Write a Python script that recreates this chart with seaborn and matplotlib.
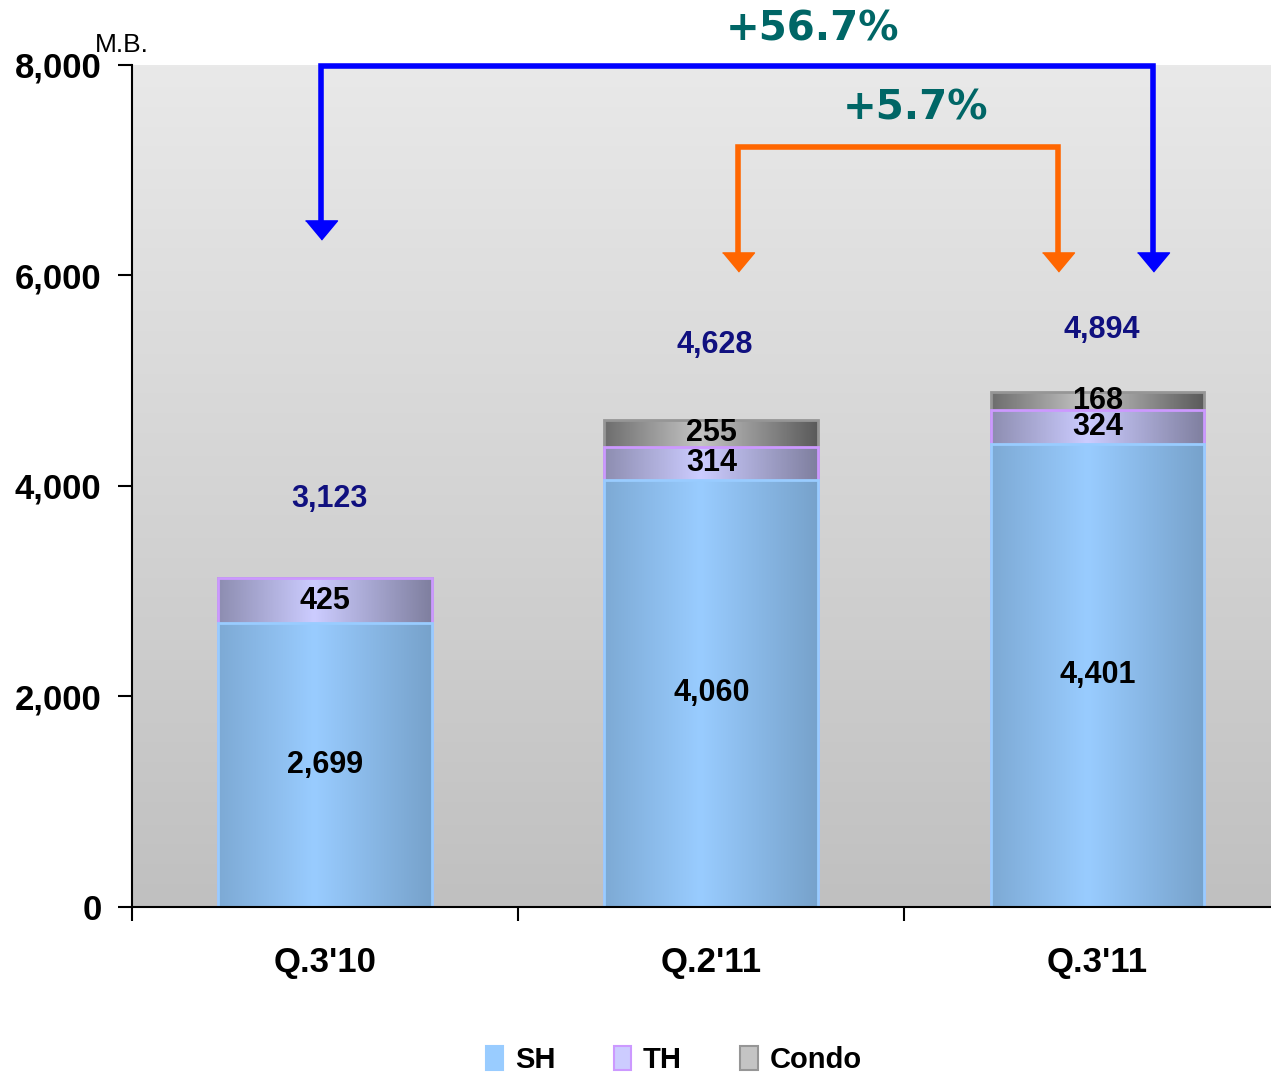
import numpy as np
import pandas as pd
import matplotlib
matplotlib.use("Agg")
import matplotlib.pyplot as plt
import seaborn as sns
from matplotlib.colors import LinearSegmentedColormap
from matplotlib.patches import Rectangle, Patch

# Data (M.B.)
quarters = ["Q.3'10", "Q.2'11", "Q.3'11"]
sh = [2699, 4060, 4401]
th = [425, 314, 324]
condo = [0, 255, 168]
totals = [3123, 4628, 4894]
total_label_gap = [753, 712, 588]

# growth brackets: label, x left, x right, top level, tip level, colour
growth_labels = ["+56.7%", "+5.7%"]
growth_x_left = [-0.01, 1.069]
growth_x_right = [2.145, 1.897]
growth_top = [7990, 7221]
growth_tip_left = [6432, 6128]
growth_tip_right = [6128, 6128]
growth_colors = ["#0000ff", "#ff6600"]
growth_text_xy = [(1.263, 8340), (1.529, 7590)]

# styles: (edge shade, centre shade, outline)
styles = {
    "SH": ("#77a2cb", "#99ccff", "#99ccff"),
    "TH": ("#7f7f9f", "#ccccff", "#cc99ff"),
    "Condo": ("#5a5a5a", "#c4c4c4", "#969696"),
}

df = pd.DataFrame({"quarter": quarters, "SH": sh, "TH": th, "Condo": condo})
df["cum_TH"] = df["SH"] + df["TH"]
df["cum_Condo"] = df["cum_TH"] + df["Condo"]

sns.set_style("ticks")
plt.rcParams["font.family"] = ["Liberation Sans", "DejaVu Sans"]
plt.rcParams["text.color"] = "black"
plt.rcParams["xtick.color"] = "black"
plt.rcParams["ytick.color"] = "black"
plt.rcParams["axes.labelcolor"] = "black"

fig = plt.figure(figsize=(12.71, 10.75), dpi=100)
ax = fig.add_axes([0.1039, 0.1563, 0.9115, 0.7833])

# background gradient
bg = LinearSegmentedColormap.from_list("bg", ["#c0c0c0", "#e9e9e9"])
ax.imshow(np.linspace(0, 1, 256).reshape(-1, 1), cmap=bg, origin="lower",
          extent=(0, 1, 0, 1), transform=ax.transAxes, aspect="auto", zorder=0)

grad = np.abs(np.linspace(0, 1, 256) - 0.45)
grad = (grad / grad.max()).reshape(1, -1)

layers = [("Condo", "cum_Condo", 2), ("TH", "cum_TH", 3), ("SH", "SH", 4)]
for name, col, z in layers:
    n0 = len(ax.patches)
    sns.barplot(data=df, x="quarter", y=col, color=styles[name][1], width=0.554,
                ax=ax, zorder=z, linewidth=0, saturation=1)
    cmap = LinearSegmentedColormap.from_list(name, [styles[name][1], styles[name][0]])
    for p in ax.patches[n0:]:
        x0, w, h = p.get_x(), p.get_width(), p.get_height()
        im = ax.imshow(grad, cmap=cmap, extent=(x0, x0 + w, 0, h), aspect="auto",
                       zorder=z + 0.1, interpolation="bilinear")
        im.set_clip_path(p)
        ax.add_patch(Rectangle((x0, 0), w, h, fill=False, edgecolor=styles[name][2],
                               lw=2, zorder=z + 0.2))

# segment labels
lab = dict(ha="center", va="center", fontsize=22, fontweight="bold", zorder=10)
for i in range(len(quarters)):
    ax.text(i, sh[i] / 2, f"{sh[i]:,}", **lab)
    ax.text(i, sh[i] + th[i] / 2, f"{th[i]:,}", **lab)
    if condo[i] > 0:
        ax.text(i, sh[i] + th[i] + condo[i] / 2, f"{condo[i]:,}", **lab)
    ax.text(i + 0.01, totals[i] + total_label_gap[i], f"{totals[i]:,}",
            color="#10107f", **lab)

# growth brackets
for k in range(len(growth_labels)):
    xl, xr, top = growth_x_left[k], growth_x_right[k], growth_top[k]
    c = growth_colors[k]
    ax.plot([xl, xl, xr, xr], [growth_tip_left[k], top, top, growth_tip_right[k]],
            color=c, lw=4, solid_joinstyle="miter", clip_on=False, zorder=12)
    ax.plot([xl, xr], [growth_tip_left[k], growth_tip_right[k]], ls="none",
            marker=[(-1, 0.6), (1, 0.6), (0, -0.6)], markersize=23, color=c,
            clip_on=False, zorder=12)
    tx, ty = growth_text_xy[k]
    ax.text(tx, ty, growth_labels[k], ha="center", va="center", fontsize=29,
            fontweight="bold", family="DejaVu Sans", color="#006666",
            clip_on=False, zorder=12)

ax.set_xlim(-0.5, 2.5)
ax.set_ylim(0, 8000)
ax.set_yticks([0, 2000, 4000, 6000, 8000])
ax.set_yticklabels(["0", "2,000", "4,000", "6,000", "8,000"], fontsize=25, fontweight="bold")
ax.tick_params(axis="y", length=10, width=1.5, pad=12, color="black")
ax.set_xticks(range(len(quarters)))
ax.set_xticklabels(quarters, fontsize=25, fontweight="bold")
ax.set_xticks([-0.5, 0.5, 1.5, 2.5], minor=True)
ax.tick_params(axis="x", which="major", length=0, pad=28)
ax.tick_params(axis="x", which="minor", length=10, width=1.5, color="black")
ax.set_xlabel("")
ax.set_ylabel("")
for s in ["top", "right"]:
    ax.spines[s].set_visible(False)
for s in ["left", "bottom"]:
    ax.spines[s].set_color("black")
    ax.spines[s].set_linewidth(1.5)
    ax.spines[s].set_zorder(11)

fig.text(0.0747, 0.958, "M.B.", fontsize=19, va="center", ha="left")

handles = [Patch(facecolor=styles[n][1], edgecolor=styles[n][2], lw=1.5) for n in ["SH", "TH", "Condo"]]
fig.legend(handles, ["SH", "TH", "Condo"], loc="center", bbox_to_anchor=(0.53, 0.014),
           ncol=3, frameon=False, prop={"size": 21, "weight": "bold"},
           handlelength=0.6, handleheight=0.9, handletextpad=0.4, columnspacing=2.0)

fig.savefig("out.png", dpi=100, facecolor="white")
